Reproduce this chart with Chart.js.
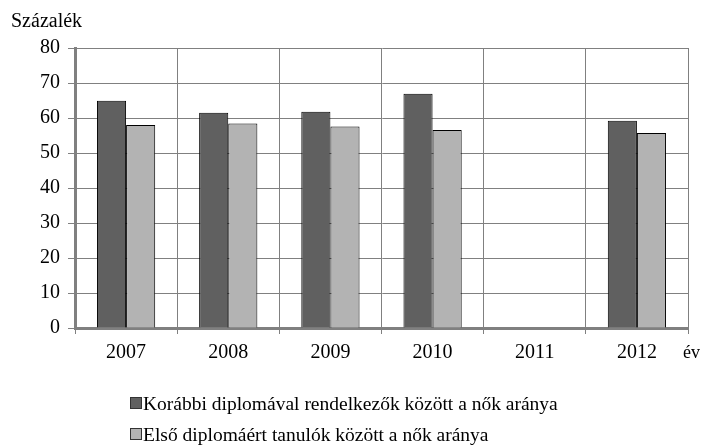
<!DOCTYPE html>
<html>
<head>
<meta charset="utf-8">
<script src="https://cdn.jsdelivr.net/npm/chart.js@4.4.1/dist/chart.umd.min.js"></script>
<style>
  html, body { margin: 0; padding: 0; background: #fff; }
  #wrap { position: relative; width: 702px; height: 447px; }
  #legend { position: absolute; left: 130px; top: 390px; font: 19.5px 'Liberation Serif', serif; color: #000; }
  #legend div { height: 31px; line-height: 28px; white-space: nowrap; }
  #legend span.box { display: inline-block; width: 10px; height: 10px; border: 1px solid #333; margin-right: 1px; vertical-align: 1px; }
</style>
</head>
<body>
<div id="wrap">
  <canvas id="myChart" width="702" height="447"></canvas>
  <div id="legend"></div>
</div>
<script>
// years, percentages (2011 has no data)
const years = ['2007', '2008', '2009', '2010', '2011', '2012'];
const korabbi = [64.9, 61.5, 61.8, 66.9, null, 59.2];
const elso = [58.0, 58.4, 57.6, 56.6, null, 55.7];
const seriesNames = ['Korábbi diplomával rendelkezők között a nők aránya', 'Első diplomáért tanulók között a nők aránya'];
const seriesColors = ['#606060', '#b3b3b3'];
const yTicks = [0, 10, 20, 30, 40, 50, 60, 70, 80];

const fnt = "'Liberation Serif', serif";

const axisText = {
  id: 'axisText',
  afterDraw(chart) {
    const c = chart.ctx;
    c.save();
    c.fillStyle = '#000';
    c.font = '20px ' + fnt;
    c.textBaseline = 'middle';
    c.textAlign = 'left';
    c.fillText('Százalék', 11, 22);
    c.font = '18px ' + fnt;
    c.fillText('év', 683, 353);
    c.restore();
  }
};

function draw() {
  const ctx = document.getElementById('myChart');
  new Chart(ctx, {
    type: 'bar',
    data: {
      labels: years,
      datasets: [{
        label: seriesNames[0],
        data: korabbi,
        backgroundColor: seriesColors[0],
        borderColor: '#000',
        borderWidth: 1
      }, {
        label: seriesNames[1],
        data: elso,
        backgroundColor: seriesColors[1],
        borderColor: '#000',
        borderWidth: 1
      }]
    },
    options: {
      responsive: false,
      animation: false,
      categoryPercentage: 0.57,
      barPercentage: 1.0,
      layout: { padding: { left: 0, top: 48, right: 14, bottom: 0 } },
      plugins: { legend: { display: false }, tooltip: { enabled: false } },
      scales: {
        x: {
          grid: { color: '#808080', offset: true, tickLength: 6, lineWidth: 1 },
          border: { color: '#808080', width: 3 },
          ticks: { color: '#000', font: { family: fnt, size: 20 }, padding: 7 },
          afterFit(s) { s.height = 119; }
        },
        y: {
          min: 0, max: 80,
          afterBuildTicks(s) { s.ticks = yTicks.map(v => ({ value: v })); },
          grid: { color: '#808080', tickLength: 7, lineWidth: 1 },
          border: { color: '#808080', width: 3 },
          ticks: { color: '#000', font: { family: fnt, size: 20 }, padding: 8 },
          afterFit(s) { s.width = 75; }
        }
      }
    },
    plugins: [axisText]
  });

  const leg = document.getElementById('legend');
  seriesNames.forEach((n, i) => {
    const d = document.createElement('div');
    d.innerHTML = '<span class="box" style="background:' + seriesColors[i] + '"></span>' + n;
    leg.appendChild(d);
  });
}
draw();
</script>
</body>
</html>
